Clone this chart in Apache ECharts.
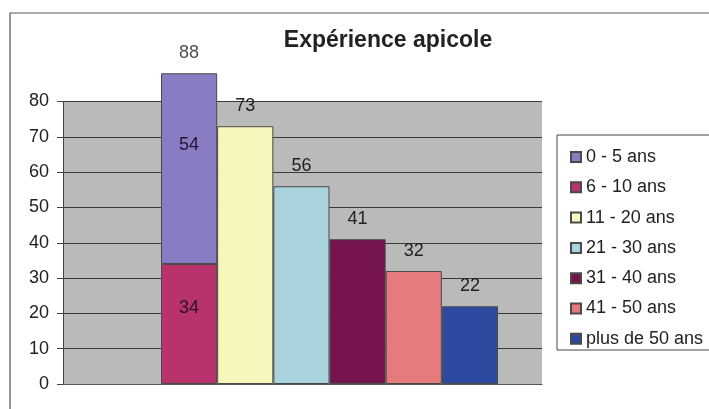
<!DOCTYPE html>
<html>
<head>
<meta charset="utf-8">
<script src="https://cdn.jsdelivr.net/npm/echarts@6/dist/echarts.min.js"></script>
<style>
  html, body { margin: 0; padding: 0; background: #fff; }
  #main { width: 709px; height: 409px; }
</style>
</head>
<body>
<div id="main"></div>
<script>
// legend order / groups
const groups = ['0 - 5 ans', '6 - 10 ans', '11 - 20 ans', '21 - 30 ans', '31 - 40 ans', '41 - 50 ans', 'plus de 50 ans'];
const counts = [54, 34, 73, 56, 41, 32, 22];
// which column each group is drawn in (the two first share one stacked column)
const columns = [0, 0, 1, 2, 3, 4, 5];
const colors = ['#8a7cc2', '#b8336c', '#f7f7bd', '#a9d3dc', '#761450', '#e57b7b', '#2b4aa0'];
const yTicks = [0, 10, 20, 30, 40, 50, 60, 70, 80];

const FONT = 'Arial, "Liberation Sans", sans-serif';
const nCols = Math.max(...columns) + 1;
const colNames = Array.from({ length: nCols }, (_, i) => 'c' + i);

function seriesFor(i) {
  const data = colNames.map((_, c) => (c === columns[i] ? counts[i] : '-'));
  const s = {
    name: groups[i],
    type: 'bar',
    xAxisIndex: 1,
    yAxisIndex: 1,
    data: data,
    barWidth: '100%',
    barGap: '-100%',
    clip: false,
    itemStyle: { color: colors[i], borderColor: '#4a4a4a', borderWidth: 1 },
    label: {
      show: true,
      position: 'top',
      distance: 11,
      color: '#222',
      fontSize: 18,
      fontFamily: FONT
    }
  };
  if (columns[i] === 0) {
    s.stack = 'first';
    s.label.position = 'inside';
    s.label.offset = [0, i === 0 ? -24 : -16];
    s.label.color = '#2a1030';
  }
  return s;
}

// stacked column: bottom part first, then the top part
const order = [1, 0, 2, 3, 4, 5, 6];
const series = order.map(seriesFor);

// total above the stacked column
const stackTotal = counts.filter((_, i) => columns[i] === 0).reduce((a, b) => a + b, 0);
series.push({
  type: 'scatter',
  xAxisIndex: 1,
  yAxisIndex: 1,
  symbolSize: 0,
  clip: false,
  silent: true,
  data: colNames.map((_, c) => (c === 0 ? stackTotal : '-')),
  label: {
    show: true,
    position: 'top',
    distance: 11,
    color: '#222',
    fontSize: 18,
    fontFamily: FONT,
    formatter: p => p.value
  }
});

const chart = echarts.init(document.getElementById('main'));

const option = {
  animation: false,
  backgroundColor: '#fff',
  title: {
    text: 'Expérience apicole',
    left: 383,
    top: 24,
    textAlign: 'center',
    textStyle: { fontSize: 23, fontWeight: 'bold', color: '#222', fontFamily: FONT }
  },
  legend: {
    orient: 'vertical',
    left: 565,
    top: 143,
    itemWidth: 10,
    itemHeight: 10,
    itemGap: 12.3,
    icon: 'rect',
    data: groups,
    textStyle: { fontSize: 18, color: '#222', fontFamily: FONT }
  },
  grid: [
    {
      left: 63, right: 167, top: 101.5, bottom: 25,
      show: true, backgroundColor: '#bababa', borderWidth: 0
    },
    { left: 161, right: 211, top: 101.5, bottom: 25 }
  ],
  xAxis: [
    {
      gridIndex: 0, type: 'category', data: [''],
      axisLine: { show: true, lineStyle: { color: '#555', width: 1 } },
      axisTick: { show: false }, axisLabel: { show: false }
    },
    {
      gridIndex: 1, type: 'category', data: colNames, show: false
    }
  ],
  yAxis: [
    {
      gridIndex: 0, type: 'value', min: yTicks[0], max: yTicks[yTicks.length - 1], interval: 10,
      axisLine: { show: true, lineStyle: { color: '#444', width: 1 } },
      axisTick: { show: true, length: 6, lineStyle: { color: '#444' } },
      axisLabel: { margin: 14, fontSize: 18, color: '#222', fontFamily: FONT },
      splitLine: { show: true, lineStyle: { color: '#3a3a3a', width: 1 } }
    },
    {
      gridIndex: 1, type: 'value', min: yTicks[0], max: yTicks[yTicks.length - 1], show: false
    }
  ],
  series: series,
  graphic: [
    {
      type: 'rect', silent: true, z: -1,
      shape: { x: 10, y: 13, width: 720, height: 420 },
      style: { fill: 'none', stroke: '#555', lineWidth: 1.2 }
    },
    {
      type: 'rect', silent: true, z: -1,
      shape: { x: 557, y: 135, width: 160, height: 215 },
      style: { fill: '#fff', stroke: '#444', lineWidth: 1 }
    }
  ]
};

chart.setOption(option);
</script>
</body>
</html>
